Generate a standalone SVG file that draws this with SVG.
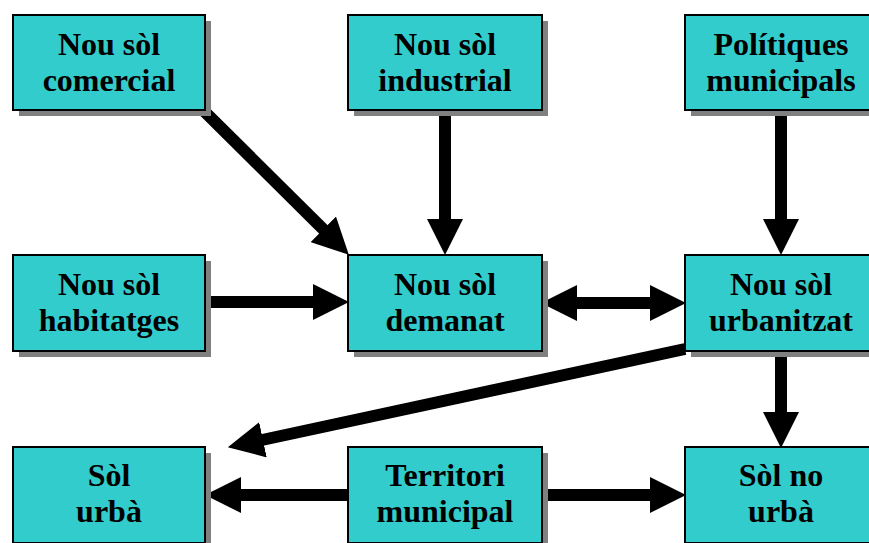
<svg xmlns="http://www.w3.org/2000/svg" width="869" height="543" viewBox="0 0 869 543">
<style>
.sh{fill:#808080}
.bx{fill:#33CCCC;stroke:#000;stroke-width:2}
.t{font-family:"Liberation Serif","Times New Roman",serif;font-weight:bold;font-size:32px;fill:#000;text-anchor:middle}
.c{stroke:#000;stroke-width:12;fill:none}
</style>
<defs>
<marker id="ah" viewBox="0 0 36 36" refX="1" refY="18" markerWidth="36" markerHeight="36" markerUnits="userSpaceOnUse" orient="auto-start-reverse">
<path d="M0,0 L36,18 L0,36 z" fill="#000"/>
</marker>
</defs>
<rect width="869" height="543" fill="#fff"/>
<g id="connectors">
<line class="c" x1="204" y1="111" x2="324" y2="230" marker-end="url(#ah)"/>
<line class="c" x1="445" y1="110" x2="445" y2="220" marker-end="url(#ah)"/>
<line class="c" x1="781" y1="110" x2="781" y2="220" marker-end="url(#ah)"/>
<line class="c" x1="205" y1="302" x2="314" y2="302" marker-end="url(#ah)"/>
<line class="c" x1="576" y1="303" x2="651" y2="303" marker-start="url(#ah)" marker-end="url(#ah)"/>
<line class="c" x1="685" y1="349" x2="262" y2="440" marker-end="url(#ah)"/>
<line class="c" x1="781" y1="351" x2="781" y2="413" marker-end="url(#ah)"/>
<line class="c" x1="348" y1="495" x2="240" y2="495" marker-end="url(#ah)"/>
<line class="c" x1="542" y1="495" x2="651" y2="495" marker-end="url(#ah)"/>
</g>
<g id="n-comercial">
<rect class="sh" x="19" y="21" width="192" height="95"/>
<rect class="bx" x="13" y="15" width="192" height="95"/>
<text class="t" x="109" y="55">Nou sòl</text>
<text class="t" x="109" y="91">comercial</text>
</g>
<g id="n-industrial">
<rect class="sh" x="354" y="21" width="194" height="95"/>
<rect class="bx" x="348" y="15" width="194" height="95"/>
<text class="t" x="445" y="55">Nou sòl</text>
<text class="t" x="445" y="91">industrial</text>
</g>
<g id="n-politiques">
<rect class="sh" x="691" y="21" width="192" height="95"/>
<rect class="bx" x="685" y="15" width="192" height="95"/>
<text class="t" x="781" y="55">Polítiques</text>
<text class="t" x="781" y="91">municipals</text>
</g>
<g id="n-habitatges">
<rect class="sh" x="19" y="261" width="192" height="96"/>
<rect class="bx" x="13" y="255" width="192" height="96"/>
<text class="t" x="109" y="295">Nou sòl</text>
<text class="t" x="109" y="331">habitatges</text>
</g>
<g id="n-demanat">
<rect class="sh" x="354" y="261" width="194" height="96"/>
<rect class="bx" x="348" y="255" width="194" height="96"/>
<text class="t" x="445" y="295">Nou sòl</text>
<text class="t" x="445" y="331">demanat</text>
</g>
<g id="n-urbanitzat">
<rect class="sh" x="691" y="261" width="192" height="96"/>
<rect class="bx" x="685" y="255" width="192" height="96"/>
<text class="t" x="781" y="295">Nou sòl</text>
<text class="t" x="781" y="331">urbanitzat</text>
</g>
<g id="n-urba">
<rect class="sh" x="19" y="453" width="192" height="96"/>
<rect class="bx" x="13" y="447" width="192" height="96"/>
<text class="t" x="109" y="486">Sòl</text>
<text class="t" x="109" y="522">urbà</text>
</g>
<g id="n-territori">
<rect class="sh" x="354" y="453" width="194" height="96"/>
<rect class="bx" x="348" y="447" width="194" height="96"/>
<text class="t" x="445" y="486">Territori</text>
<text class="t" x="445" y="522">municipal</text>
</g>
<g id="n-nourba">
<rect class="sh" x="691" y="453" width="192" height="96"/>
<rect class="bx" x="685" y="447" width="192" height="96"/>
<text class="t" x="781" y="486">Sòl no</text>
<text class="t" x="781" y="522">urbà</text>
</g>
</svg>
